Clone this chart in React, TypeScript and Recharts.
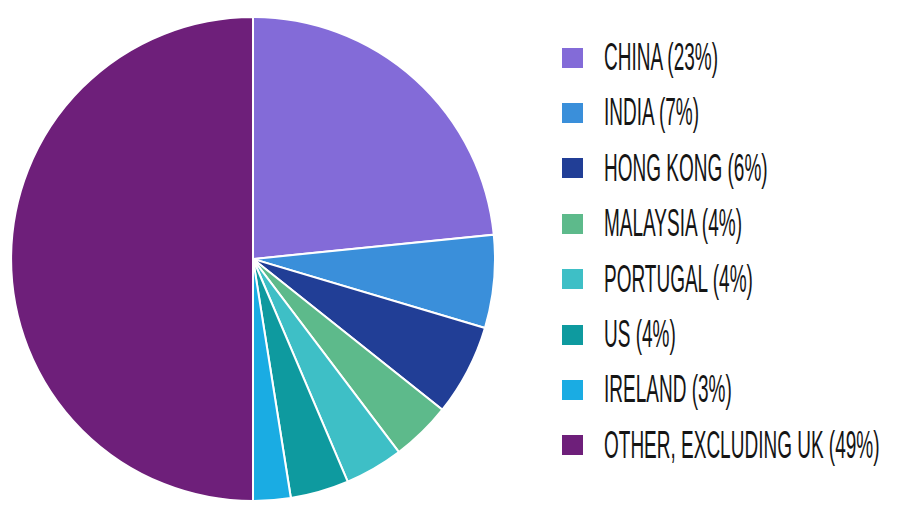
import React from "react";
import { PieChart, Pie, Cell, Legend } from "recharts";

const countries = ["CHINA", "INDIA", "HONG KONG", "MALAYSIA", "PORTUGAL", "US", "IRELAND", "OTHER, EXCLUDING UK"];
const shares = [23.4, 6.2, 6.1, 4.0, 3.9, 3.9, 2.5, 50.0];
const labelPercents = ["23%", "7%", "6%", "4%", "4%", "4%", "3%", "49%"];
const colors = ["#836BD8", "#3A8FDA", "#213E96", "#5DBA8B", "#3EBFC6", "#0E9A9F", "#1AACE3", "#6E1F7A"];

const data = countries.map((name, i) => ({ name, value: shares[i], label: `${name} (${labelPercents[i]})` }));

const LegendContent = () => (
  <div style={{ display: "flex", flexDirection: "column" }}>
    {data.map((d, i) => (
      <div key={d.name} style={{ height: 55.4, display: "flex", alignItems: "center" }}>
        <div style={{ width: 21, height: 20, background: colors[i], flex: "none" }} />
        <div style={{ marginLeft: 21, width: 300, height: 55.4, position: "relative" }}>
          <span
            style={{
              position: "absolute",
              left: 0,
              top: 7,
              fontFamily: "'Liberation Sans Narrow', 'Liberation Sans', sans-serif",
              fontSize: 38,
              lineHeight: "40px",
              color: "#151515",
              whiteSpace: "nowrap",
              wordSpacing: 0,
              transform: "scaleX(0.5)",
              transformOrigin: "left center",
            }}
          >
            {d.label}
          </span>
        </div>
      </div>
    ))}
  </div>
);

export default function App() {
  return (
    <PieChart width={900} height={514} margin={{ top: 0, right: 0, bottom: 0, left: 0 }}>
      <Pie
        data={data}
        dataKey="value"
        nameKey="name"
        cx={245}
        cy={251}
        innerRadius={0}
        outerRadius={242}
        startAngle={90}
        endAngle={-270}
        stroke="#ffffff"
        strokeWidth={2}
        isAnimationActive={false}
      >
        {data.map((d, i) => (
          <Cell key={d.name} fill={colors[i]} />
        ))}
      </Pie>
      <Legend
        content={<LegendContent />}
        wrapperStyle={{ left: 554, top: 22, width: 336, bottom: "auto", right: "auto", overflow: "visible" }}
      />
    </PieChart>
  );
}
